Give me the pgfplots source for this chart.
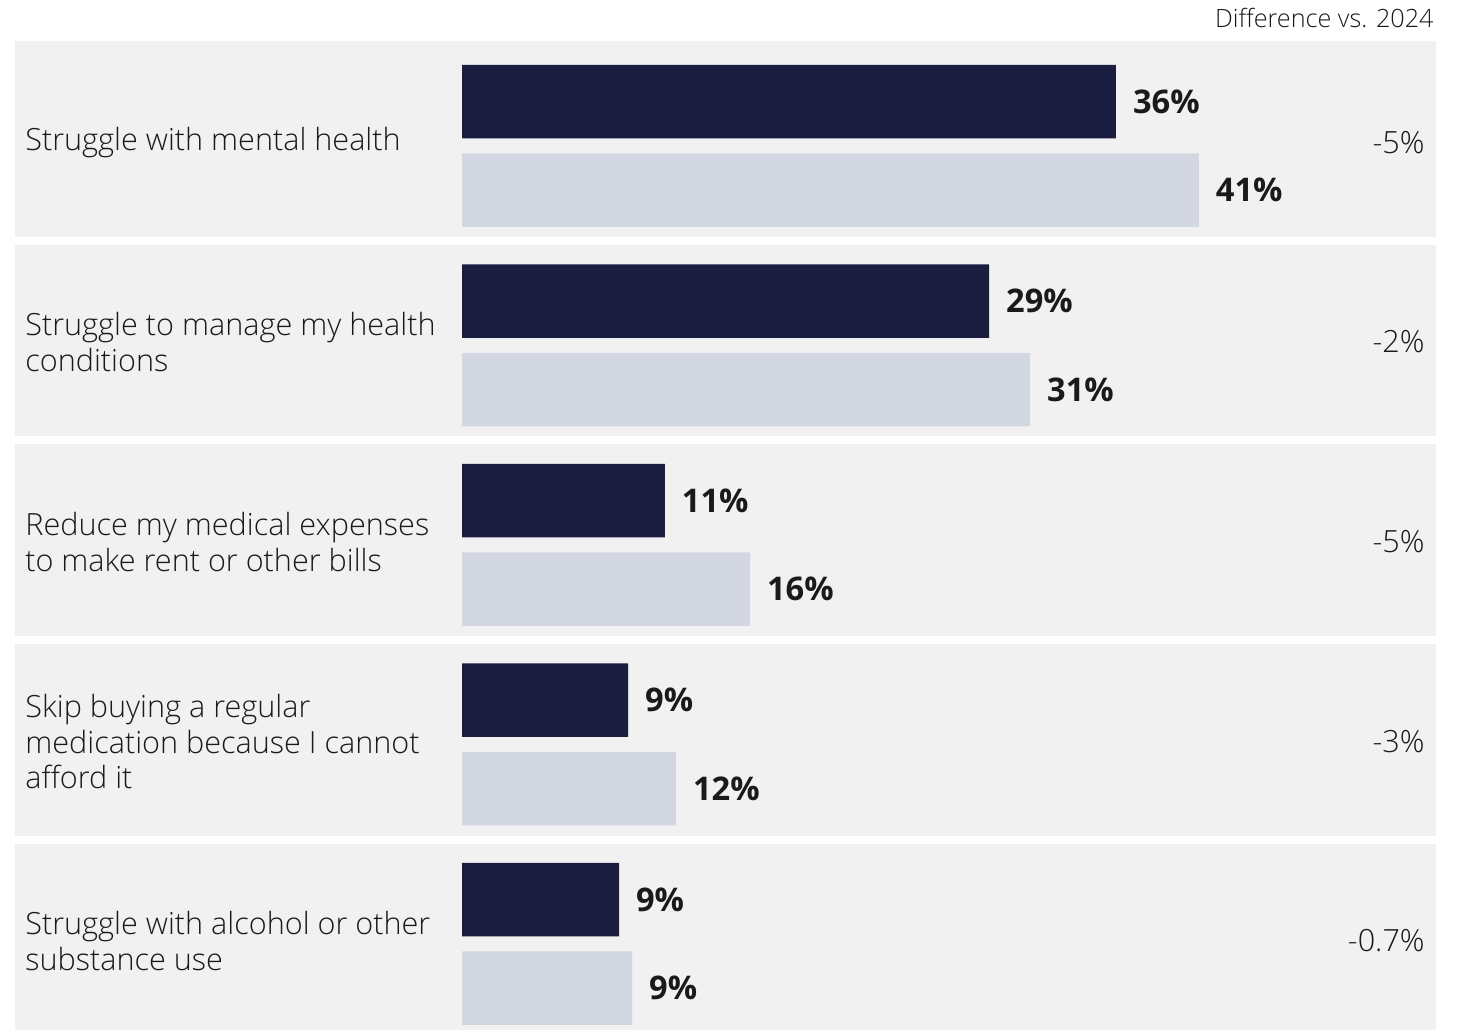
\documentclass[border=0pt]{standalone}
\usepackage{fontspec}
\IfFontExistsTF{Open Sans Light}{\setmainfont{Open Sans Light}[BoldFont=Open Sans Bold]}{\setmainfont{Open Sans}}
\usepackage{pgfplots}
\usepackage{pgfplotstable}
\pgfplotsset{compat=1.18}
\definecolor{navy}{HTML}{1A1C40}
\definecolor{lightbar}{HTML}{D3D7E1}
\definecolor{panel}{HTML}{F1F1F1}
\definecolor{textc}{HTML}{1A1A1A}

\pgfplotstableread{
y v
101.5 36.03
301.0 29.04
500.5 11.18
700.0 9.15
899.5 8.65
}\darkdata
\pgfplotstableread{
y v
190.0 40.6
389.5 31.3
589.0 15.87
788.5 11.79
988.0 9.37
}\lightdata

\begin{document}
\begin{tikzpicture}
\begin{axis}[
  width=730pt, height=515pt, scale only axis,
  xmin=-25.455, xmax=54.986,
  ymin=0, ymax=1030, y dir=reverse,
  hide axis, clip=false,
  /pgf/number format/assume math mode=true,
]
\path (rel axis cs:0,0) rectangle (rel axis cs:1,1);
% panels
\fill[panel] (axis cs:-24.63,41) rectangle (axis cs:53.66,236.7);
\fill[panel] (axis cs:-24.63,245) rectangle (axis cs:53.66,435.7);
\fill[panel] (axis cs:-24.63,444) rectangle (axis cs:53.66,635.5);
\fill[panel] (axis cs:-24.63,644) rectangle (axis cs:53.66,835.5);
\fill[panel] (axis cs:-24.63,844) rectangle (axis cs:53.66,1030);

\addplot[xbar, bar shift=0pt, bar width=73.5, fill=navy, draw=none,
  point meta=x,
  nodes near coords={\pgfmathprintnumber[fixed,precision=0,assume math mode=true]{\pgfplotspointmeta}\%},
  every node near coord/.append style={anchor=west, xshift=5pt, text=textc, font=\bfseries\fontsize{16.3}{19}\selectfont}]
  table[x=v,y=y]{\darkdata};
\addplot[xbar, bar shift=0pt, bar width=73.5, fill=lightbar, draw=none,
  point meta=x,
  nodes near coords={\pgfmathprintnumber[fixed,precision=0,assume math mode=true]{\pgfplotspointmeta}\%},
  every node near coord/.append style={anchor=west, xshift=5pt, text=textc, font=\bfseries\fontsize{16.3}{19}\selectfont}]
  table[x=v,y=y]{\lightdata};

\begin{scope}[every node/.style={text=textc, font=\fontsize{15.3}{17.75}\selectfont, inner sep=0pt}]
\node[anchor=west, align=left] at (axis cs:-24.08,143) {Struggle with mental health};
\node[anchor=west, align=left] at (axis cs:-24.08,342) {Struggle to manage my health\\conditions};
\node[anchor=west, align=left] at (axis cs:-24.08,542) {Reduce my medical expenses\\to make rent or other bills};
\node[anchor=west, align=left] at (axis cs:-24.08,742) {Skip buying a regular\\medication because I cannot\\afford it};
\node[anchor=west, align=left] at (axis cs:-24.08,941) {Struggle with alcohol or other\\substance use};
\node[anchor=east] at (axis cs:53.06,143) {-5\%};
\node[anchor=east] at (axis cs:53.06,342) {-2\%};
\node[anchor=east] at (axis cs:53.06,542) {-5\%};
\node[anchor=east] at (axis cs:53.06,742) {-3\%};
\node[anchor=east] at (axis cs:53.06,941) {-0.7\%};
\node[anchor=east, font=\fontsize{12.6}{15}\selectfont] at (axis cs:53.55,18) {Difference vs. 2024};
\end{scope}
\end{axis}
\end{tikzpicture}
\end{document}
